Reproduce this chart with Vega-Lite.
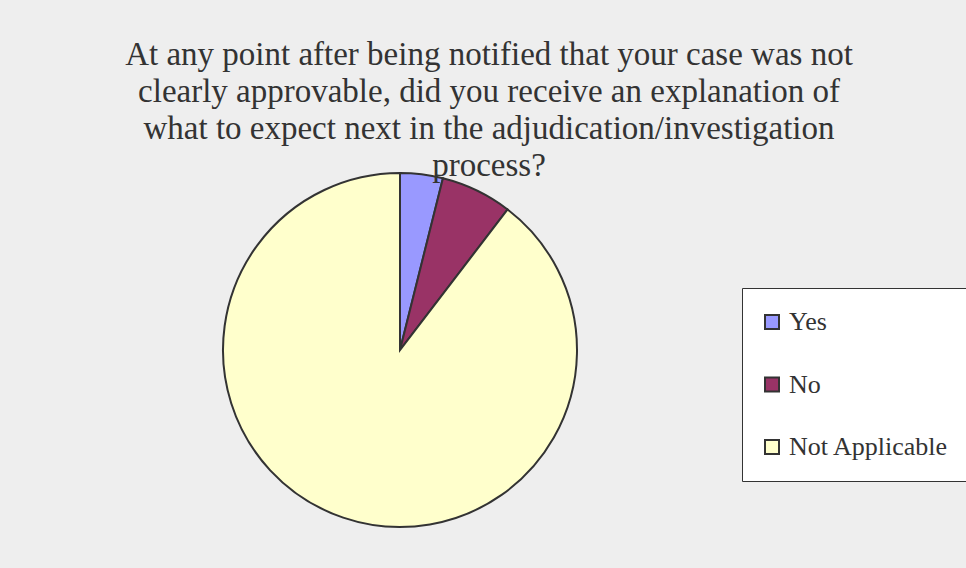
{
  "$schema": "https://vega.github.io/schema/vega-lite/v6.json",
  "width": 354,
  "height": 354,
  "autosize": {"type": "none"},
  "padding": {"left": 223, "top": 173, "right": 389, "bottom": 41},
  "background": "#eeeeee",
  "title": {
    "text": ["At any point after being notified that your case was not", "clearly approvable, did you receive an explanation of", "what to expect next in the adjudication/investigation", "process?"],
    "anchor": "middle",
    "dx": 89,
    "offset": -14,
    "font": "Liberation Serif",
    "fontSize": 33,
    "fontWeight": "normal",
    "lineHeight": 37,
    "color": "#333333"
  },
  "data": {
    "values": [
      {"answer": "Yes", "percent": 3.9, "rank": 1},
      {"answer": "No", "percent": 6.5, "rank": 2},
      {"answer": "Not Applicable", "percent": 89.6, "rank": 3}
    ]
  },
  "mark": {"type": "arc", "stroke": "#333333", "strokeWidth": 2},
  "encoding": {
    "theta": {"field": "percent", "type": "quantitative", "stack": true},
    "order": {"field": "rank", "type": "quantitative"},
    "color": {
      "field": "answer",
      "type": "nominal",
      "sort": ["Yes", "No", "Not Applicable"],
      "scale": {"domain": ["Yes", "No", "Not Applicable"], "range": ["#9999ff", "#993366", "#ffffcc"]},
      "legend": {
        "title": null,
        "orient": "none",
        "legendX": 519,
        "legendY": 115,
        "fillColor": "#ffffff",
        "strokeColor": "#333333",
        "padding": 21,
        "symbolOffset": -4,
        "symbolType": "square",
        "symbolSize": 196,
        "symbolStrokeColor": "#333333",
        "symbolStrokeWidth": 2,
        "labelFont": "Liberation Serif",
        "labelFontSize": 26,
        "labelColor": "#333333",
        "labelOffset": 4,
        "rowPadding": 36.5,
        "labelLimit": 300
      }
    }
  },
  "config": {"view": {"stroke": null}}
}
